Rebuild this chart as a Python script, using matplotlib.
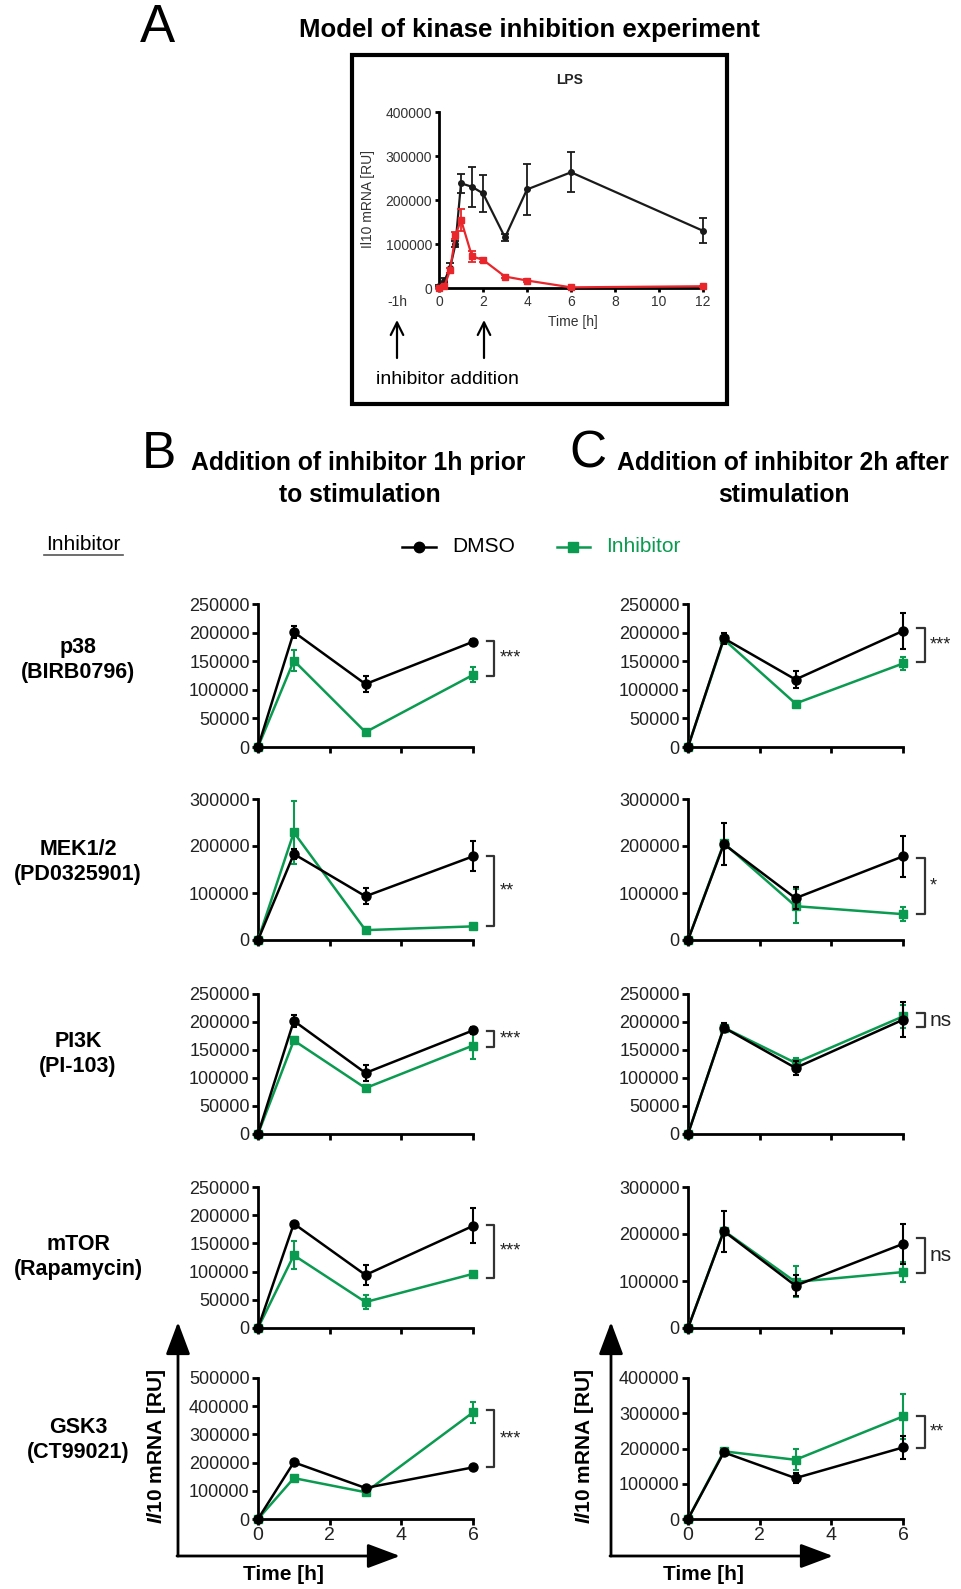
import matplotlib
matplotlib.use('Agg')
import matplotlib.pyplot as plt
from matplotlib.patches import Rectangle

plt.rcParams['font.family'] = ['Liberation Sans', 'DejaVu Sans']
plt.rcParams['mathtext.fontset'] = 'custom'
plt.rcParams['mathtext.it'] = 'Liberation Sans:italic:bold'
plt.rcParams['mathtext.rm'] = 'Liberation Sans:bold'

GREEN = '#0a9a50'
W, H = 962, 1589

# ---- panel A: LPS time course ----
lps_t = [0, 0.25, 0.5, 0.75, 1, 1.5, 2, 3, 4, 6, 12]
lps_dmso = [5000, 17000, 45000, 100000, 238000, 230000, 215000, 115000, 224000, 263000, 130000]
lps_dmso_err = [2000, 5000, 12000, 7000, 22000, 45000, 42000, 8000, 58000, 45000, 28000]
lps_inh = [0, 5000, 40000, 120000, 155000, 72000, 64000, 26000, 17000, 1500, 4000]
lps_inh_err = [1000, 2000, 6000, 8000, 25000, 12000, 4000, 3000, 3000, 1000, 1000]

# ---- panels B/C ----
times = [0, 1, 3, 6]
inhibitors = ['p38\n(BIRB0796)', 'MEK1/2\n(PD0325901)', 'PI3K\n(PI-103)',
              'mTOR\n(Rapamycin)', 'GSK3\n(CT99021)']

# B: inhibitor added 1h prior
pre_dmso = [[0, 201000, 110000, 184000], [0, 183000, 93000, 178000], [0, 202000, 109000, 185000],
            [0, 185000, 94000, 181000], [0, 201000, 110000, 183000]]
pre_dmso_err = [[0, 11000, 14000, 5000], [0, 10000, 17000, 32000], [0, 11000, 15000, 6000],
                [0, 3000, 18000, 31000], [0, 5000, 8000, 4000]]
pre_inh = [[0, 151000, 26000, 126000], [0, 229000, 21000, 29000], [0, 167000, 82000, 158000],
           [0, 129000, 46000, 96000], [0, 145000, 95000, 378000]]
pre_inh_err = [[0, 18000, 3000, 13000], [0, 67000, 2000, 2000], [0, 7000, 3000, 24000],
               [0, 25000, 13000, 2000], [0, 6000, 7000, 37000]]
pre_ymax = [250000, 300000, 250000, 250000, 500000]
pre_ystep = [50000, 100000, 50000, 50000, 100000]
pre_sig = ['***', '**', '***', '***', '***']
pre_bracket = [(185000, 125000), (179000, 30000), (184000, 155000), (183000, 89000), (386000, 184000)]

# C: inhibitor added 2h after
post_dmso = [[0, 190000, 118000, 203000], [0, 204000, 89000, 178000], [0, 190000, 118000, 204000],
             [0, 206000, 90000, 179000], [0, 189000, 116000, 203000]]
post_dmso_err = [[0, 10000, 15000, 31000], [0, 45000, 23000, 43000], [0, 8000, 13000, 31000],
                 [0, 44000, 22000, 42000], [0, 6000, 15000, 33000]]
post_inh = [[0, 188000, 76000, 146000], [0, 206000, 72000, 55000], [0, 190000, 127000, 210000],
            [0, 207000, 98000, 119000], [0, 192000, 168000, 291000]]
post_inh_err = [[0, 4000, 5000, 12000], [0, 5000, 36000, 15000], [0, 5000, 8000, 20000],
                [0, 5000, 33000, 22000], [0, 4000, 30000, 64000]]
post_ymax = [250000, 300000, 250000, 300000, 400000]
post_ystep = [50000, 100000, 50000, 100000, 100000]
post_sig = ['***', '*', 'ns', 'ns', '**']
post_bracket = [(208000, 148000), (174000, 55000), (216000, 191000), (191000, 118000), (292000, 201000)]

row_px = [(604, 747), (799, 940), (994, 1134), (1187, 1328), (1378, 1519)]
row_label_y = [660, 862, 1054, 1257, 1440]

fig = plt.figure(figsize=(W / 100, H / 100), dpi=100)

ov = fig.add_axes([0, 0, 1, 1])
ov.set_xlim(0, W)
ov.set_ylim(H, 0)
ov.axis('off')


def add_ax(x0, x1, y0, y1):
    return fig.add_axes([x0 / W, 1 - y1 / H, (x1 - x0) / W, (y1 - y0) / H])


def style_axes(ax, lw, size, length):
    for s in ['top', 'right']:
        ax.spines[s].set_visible(False)
    for s in ['left', 'bottom']:
        ax.spines[s].set_linewidth(lw)
    ax.tick_params(direction='out', width=lw, length=length, labelsize=size,
                   labelcolor='#222', pad=2)


# ---- A ----
ov.text(157, 28, 'A', fontsize=38, ha='center', va='center')
ov.text(529, 30, 'Model of kinase inhibition experiment', fontsize=18.5, fontweight='bold',
        ha='center', va='center')
ov.add_patch(Rectangle((352, 55), 375, 349, fill=False, lw=3, ec='k'))
ov.text(570, 80, 'LPS', fontsize=10, fontweight='bold', ha='center', va='center', color='#222')

axA = add_ax(439, 703, 112, 288)
axA.errorbar(lps_t, lps_dmso, yerr=lps_dmso_err, color='#1a1a1a', marker='o', ms=4,
             lw=1.6, elinewidth=1.3, capsize=3, capthick=1.3, clip_on=False, zorder=3)
axA.errorbar(lps_t, lps_inh, yerr=lps_inh_err, color='#e8262b', marker='s', ms=4,
             lw=1.6, elinewidth=1.3, capsize=3, capthick=1.3, clip_on=False, zorder=4)
axA.set_xlim(0, 12)
axA.set_ylim(0, 400000)
axA.set_xticks(range(0, 13, 2))
axA.set_yticks(range(0, 400001, 100000))
style_axes(axA, 2, 10, 3)
axA.tick_params(labelcolor='#333')
ov.text(368, 199, 'Il10 mRNA [RU]', fontsize=10, rotation=90, ha='center', va='center', color='#333')
ov.text(573, 322, 'Time [h]', fontsize=10, ha='center', va='center', color='#333')
ov.text(397, 302, '-1h', fontsize=10, ha='center', va='center', color='#333')
for xa in [397, 484]:
    ov.annotate('', xy=(xa, 320), xytext=(xa, 358),
                arrowprops=dict(arrowstyle='->,head_length=0.5,head_width=0.25', lw=1.6,
                                color='k', mutation_scale=18, shrinkA=0, shrinkB=0))
ov.text(447, 379, 'inhibitor addition', fontsize=14, ha='center', va='center')

# ---- B / C headings ----
ov.text(159, 454, 'B', fontsize=37, ha='center', va='center')
ov.text(358, 463, 'Addition of inhibitor 1h prior', fontsize=17.8, fontweight='bold', ha='center', va='center')
ov.text(360, 495, 'to stimulation', fontsize=17.8, fontweight='bold', ha='center', va='center')
ov.text(588, 454, 'C', fontsize=37, ha='center', va='center')
ov.text(783, 463, 'Addition of inhibitor 2h after', fontsize=17.8, fontweight='bold', ha='center', va='center')
ov.text(784, 495, 'stimulation', fontsize=17.8, fontweight='bold', ha='center', va='center')

ov.text(83, 545, 'Inhibitor', fontsize=15, ha='center', va='center')
ov.plot([44, 123], [555, 555], color='#555', lw=1.2)

ov.plot([402, 436], [547, 547], color='k', lw=1.8)
ov.plot([419], [547], 'o', color='k', ms=7.5)
ov.text(452, 547, 'DMSO', fontsize=15, ha='left', va='center')
ov.plot([557, 590], [547, 547], color=GREEN, lw=1.8)
ov.plot([573], [547], 's', color=GREEN, ms=7.5)
ov.text(606, 547, 'Inhibitor', fontsize=15, ha='left', va='center', color=GREEN)

for ly, lab in zip(row_label_y, inhibitors):
    ov.text(78, ly, lab, fontsize=15.5, fontweight='bold', ha='center', va='center',
            multialignment='center', linespacing=1.3)


def panel(ax, dmso, dmso_err, inh, inh_err, ymax, ystep, sig, br, bottom):
    ax.errorbar(times, inh, yerr=inh_err, color=GREEN, marker='s', ms=5.5, lw=1.8,
                elinewidth=1.5, capsize=2.5, capthick=1.5, clip_on=False, zorder=3)
    ax.errorbar(times, dmso, yerr=dmso_err, color='k', marker='o', ms=6.5, lw=1.8,
                elinewidth=1.5, capsize=2.5, capthick=1.5, clip_on=False, zorder=4)
    ax.set_xlim(0, 6)
    ax.set_ylim(0, ymax)
    ax.set_xticks([0, 2, 4, 6])
    ax.set_yticks(range(0, ymax + 1, ystep))
    style_axes(ax, 2, 13, 4)
    if bottom:
        ax.tick_params(axis='x', labelsize=14)
    else:
        ax.set_xticklabels([])
    hi, lo = br
    ax.plot([6.38, 6.6, 6.6, 6.38], [hi, hi, lo, lo], color='#333', lw=1.6, clip_on=False)
    if sig == 'ns':
        ax.text(6.75, (hi + lo) / 2, sig, fontsize=15, ha='left', va='center', color='#222')
    else:
        ax.text(6.75, (hi + lo) / 2, sig, fontsize=13, ha='left', va='center', color='#222')


for i, (y0, y1) in enumerate(row_px):
    bottom = i == len(row_px) - 1
    axb = add_ax(258, 473, y0, y1)
    panel(axb, pre_dmso[i], pre_dmso_err[i], pre_inh[i], pre_inh_err[i],
          pre_ymax[i], pre_ystep[i], pre_sig[i], pre_bracket[i], bottom)
    axc = add_ax(688, 903, y0, y1)
    panel(axc, post_dmso[i], post_dmso_err[i], post_inh[i], post_inh_err[i],
          post_ymax[i], post_ystep[i], post_sig[i], post_bracket[i], bottom)

# big axis arrows for bottom row
arrow_kw = dict(arrowstyle='-|>,head_length=0.8,head_width=0.3', lw=2, color='k',
                mutation_scale=25, shrinkA=0, shrinkB=0)
for x0, xtip, ylab_x, tlab_x in [(178, 400, 157, 283), (611, 833, 585, 703)]:
    ov.annotate('', xy=(x0, 1322), xytext=(x0, 1556), arrowprops=arrow_kw)
    ov.annotate('', xy=(xtip, 1556), xytext=(x0 - 1, 1556), arrowprops=arrow_kw)
    ov.text(ylab_x, 1446, r'$\mathit{Il10}$ mRNA [RU]', fontsize=15, fontweight='bold',
            rotation=90, ha='center', va='center')
    ov.text(tlab_x, 1575, 'Time [h]', fontsize=15, fontweight='bold', ha='center', va='center')

fig.savefig('out.png', dpi=100)
